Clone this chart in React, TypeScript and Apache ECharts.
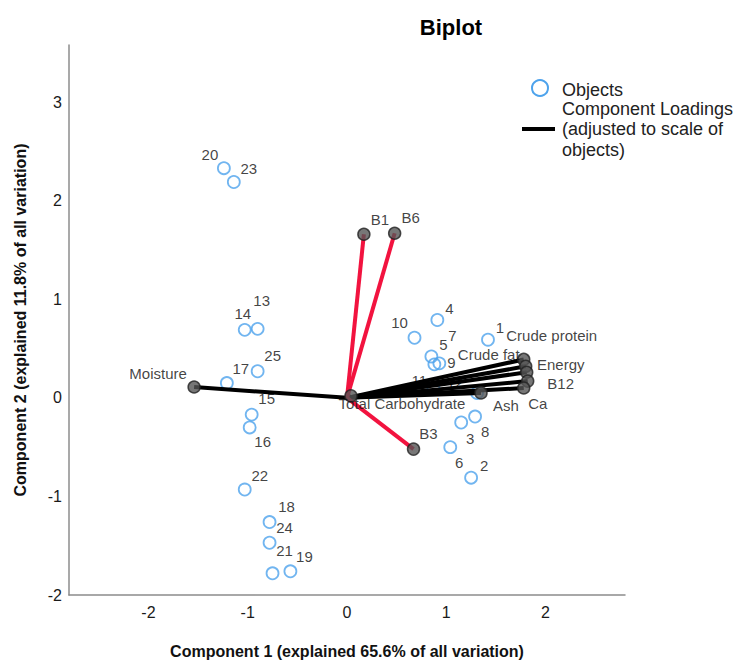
import React, { useEffect, useRef } from 'react';
import * as echarts from 'echarts';

// ---- Data ----
const objectIds = ['1', '2', '3', '4', '5', '6', '7', '8', '9', '10', '11', '12', '13', '14', '15', '16', '17', '18', '19', '20', '21', '22', '23', '24', '25'];
const objectX = [1.42, 1.25, 1.15, 0.91, 0.88, 1.04, 0.85, 1.29, 0.93, 0.68, 0.87, 1.31, -0.90, -1.03, -0.96, -0.98, -1.21, -0.78, -0.57, -1.24, -0.75, -1.03, -1.14, -0.78, -0.90];
const objectY = [0.59, -0.81, -0.25, 0.79, 0.34, -0.50, 0.42, -0.19, 0.35, 0.61, 0.10, 0.05, 0.70, 0.69, -0.17, -0.30, 0.15, -1.26, -1.76, 2.33, -1.78, -0.93, 2.19, -1.47, 0.27];

const loadingNames = ['Moisture', 'Crude protein', 'Energy', 'Crude fat', 'B12', 'Ca', 'Ash', 'Total Carbohydrate', 'B1', 'B6', 'B3'];
const loadingX = [-1.54, 1.78, 1.80, 1.81, 1.82, 1.78, 1.35, 0.04, 0.17, 0.48, 0.67];
const loadingY = [0.11, 0.39, 0.32, 0.26, 0.17, 0.10, 0.05, 0.02, 1.66, 1.67, -0.52];
const redLoadings = ['B1', 'B6', 'B3'];

// ---- Layout (label placement, pixels) ----
const objectLabelOffsets: [number, number][] = [
  [12, -12], [13, -12], [9, 16], [12, -12], [9, -20], [9, 15], [21, -21], [10, 15], [12, -1], [-15, -15],
  [-14, -8], [-22, -10], [4, -28], [-2, -16], [15, -16], [13, 14], [14, -15], [17, -16], [14, -15], [-14, -14],
  [12, -23], [15, -14], [15, -14], [15, -15], [15, -16],
];
const loadingLabelOffsets: [number, number][] = [
  [-36, -14], [28, -24], [35, -2], [-38, -18], [33, 2], [14, 15], [25, 13], [51, 8], [16, -15], [16, -16], [15, -16],
];

const FONT = "'Liberation Sans', Arial, Helvetica, sans-serif";

export default function App() {
  const ref = useRef<HTMLDivElement>(null);

  useEffect(() => {
    document.body.style.margin = '0';
    if (!ref.current) return;
    const chart = echarts.init(ref.current, undefined, { renderer: 'svg' });
    const intLabel = (v: number) => (Math.abs(v - Math.round(v)) < 1e-6 ? String(Math.round(v)) : '');

    chart.setOption({
      animation: false,
      textStyle: { fontFamily: FONT },
      grid: { left: 69, top: 45, right: 112, bottom: 63 },
      xAxis: {
        type: 'value',
        min: -2.8,
        max: 2.8,
        interval: 0.2,
        axisLine: { onZero: false, lineStyle: { color: '#8c8c8c', width: 1.5 } },
        axisTick: { show: false },
        splitLine: { show: false },
        axisLabel: { interval: 0, formatter: intLabel, color: '#1a1a1a', fontSize: 16, margin: 9, fontFamily: FONT },
        name: 'Component 1 (explained 65.6% of all variation)',
        nameLocation: 'middle',
        nameGap: 48,
        nameTextStyle: { fontWeight: 'bold', fontSize: 16, color: '#111', fontFamily: FONT },
      },
      yAxis: {
        type: 'value',
        min: -2,
        max: 3.58,
        interval: 1,
        axisLine: { show: true, onZero: false, lineStyle: { color: '#8c8c8c', width: 1.5 } },
        axisTick: { show: false },
        splitLine: { show: false },
        axisLabel: { formatter: intLabel, color: '#1a1a1a', fontSize: 16, margin: 7, fontFamily: FONT },
        name: 'Component 2 (explained 11.8% of all variation)',
        nameLocation: 'middle',
        nameGap: 41,
        nameTextStyle: { fontWeight: 'bold', fontSize: 16, color: '#111', fontFamily: FONT },
      },
      series: [
        {
          type: 'scatter',
          z: 2,
          symbol: 'circle',
          symbolSize: 12,
          silent: true,
          itemStyle: { color: 'rgba(255,255,255,0)', borderColor: '#4ea3ec', borderWidth: 1.8 },
          label: {
            show: true,
            position: 'inside',
            formatter: '{b}',
            color: '#111',
            fontSize: 15,
            fontFamily: FONT,
            textBorderWidth: 0,
          },
          data: objectIds.map((id, i) => ({
            name: id,
            value: [objectX[i], objectY[i]],
            label: { offset: objectLabelOffsets[i] },
          })),
        },
        {
          type: 'lines',
          coordinateSystem: 'cartesian2d',
          z: 3,
          silent: true,
          lineStyle: { width: 4, opacity: 1 },
          data: loadingNames.map((n, i) => ({
            coords: [[0, 0], [loadingX[i], loadingY[i]]],
            lineStyle: { color: redLoadings.includes(n) ? '#f2133f' : '#000000', width: 4, opacity: 1 },
          })),
        },
        {
          type: 'scatter',
          z: 4,
          symbol: 'circle',
          symbolSize: 12,
          silent: true,
          itemStyle: { color: '#555555', borderColor: '#222222', borderWidth: 1.5 },
          label: {
            show: true,
            position: 'inside',
            formatter: '{b}',
            color: '#111',
            fontSize: 15,
            fontFamily: FONT,
            textBorderWidth: 0,
          },
          data: loadingNames.map((n, i) => ({
            name: n,
            value: [loadingX[i], loadingY[i]],
            label: { offset: loadingLabelOffsets[i] },
          })),
        },
      ],
      graphic: [
        {
          type: 'text',
          x: 451,
          y: 27,
          style: { text: 'Biplot', fontSize: 22, fontWeight: 'bold', fontFamily: FONT, fill: '#000', textAlign: 'center', textVerticalAlign: 'middle' },
        },
        {
          type: 'circle',
          shape: { cx: 540, cy: 88, r: 8 },
          style: { fill: 'none', stroke: '#4ea3ec', lineWidth: 2 },
        },
        {
          type: 'text',
          x: 562,
          y: 90,
          style: { text: 'Objects', fontSize: 18, fontFamily: FONT, fill: '#222', textVerticalAlign: 'middle' },
        },
        {
          type: 'line',
          shape: { x1: 522, y1: 129, x2: 555, y2: 129 },
          style: { stroke: '#000', lineWidth: 4 },
        },
        {
          type: 'text',
          x: 562,
          y: 109,
          style: { text: 'Component Loadings', fontSize: 18, fontFamily: FONT, fill: '#222', textVerticalAlign: 'middle' },
        },
        {
          type: 'text',
          x: 562,
          y: 129,
          style: { text: '(adjusted to scale of', fontSize: 18, fontFamily: FONT, fill: '#222', textVerticalAlign: 'middle' },
        },
        {
          type: 'text',
          x: 562,
          y: 150,
          style: { text: 'objects)', fontSize: 18, fontFamily: FONT, fill: '#222', textVerticalAlign: 'middle' },
        },
      ],
    });

    return () => chart.dispose();
  }, []);

  return <div ref={ref} style={{ width: 737, height: 664 }} />;
}
